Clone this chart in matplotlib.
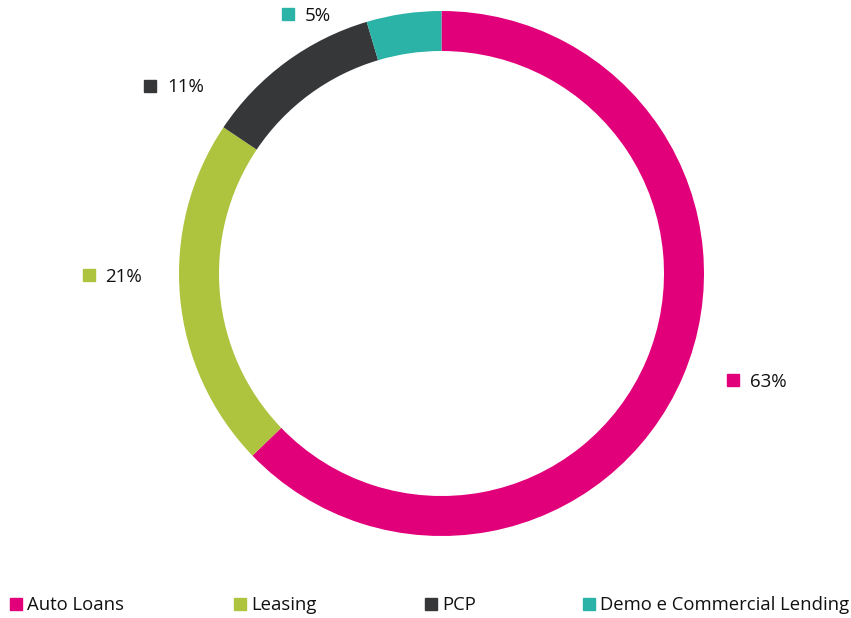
import matplotlib
matplotlib.use("Agg")
import matplotlib.pyplot as plt

plt.rcParams["font.family"] = ["Open Sans", "DejaVu Sans"]

# data
categories = ["Auto Loans", "Leasing", "PCP", "Demo e Commercial Lending"]
shares = [62.8, 21.6, 11.0, 4.6]
share_labels = ["63%", "21%", "11%", "5%"]
colors = ["#E2007A", "#AEC33E", "#363739", "#2BB3A8"]

W, H = 851, 618
fig = plt.figure(figsize=(W / 100, H / 100), dpi=100)
ax = fig.add_axes([0, 0, 1, 1])

cx, cy, r = 441.5, H - 273.5, 262.5
ax.pie(shares, colors=colors, startangle=90, counterclock=False,
       center=(cx, cy), radius=r, frame=True,
       wedgeprops=dict(width=40, edgecolor="none"))
ax.set_xlim(0, W)
ax.set_ylim(0, H)
ax.set_aspect("equal")
ax.axis("off")

# data labels (pixel positions of the square marker)
label_pos = [(733, 380), (88.5, 275), (150, 85.5), (288, 14)]
for (px, py), lab, col in zip(label_pos, share_labels, colors):
    ax.plot(px, H - py, marker="s", markersize=8.8, color=col, linestyle="none")
    ax.text(px + 17, H - py - 2, lab, fontsize=13.5, color="#111111",
            ha="left", va="center")

# legend along the bottom
legend_x = [16, 240, 431, 589]
for lx, name, col in zip(legend_x, categories, colors):
    ax.plot(lx, H - 604, marker="s", markersize=8.8, color=col, linestyle="none")
    ax.text(lx + 11, H - 605, name, fontsize=13.3, color="#111111",
            ha="left", va="center")

fig.savefig("out.png", dpi=100)
